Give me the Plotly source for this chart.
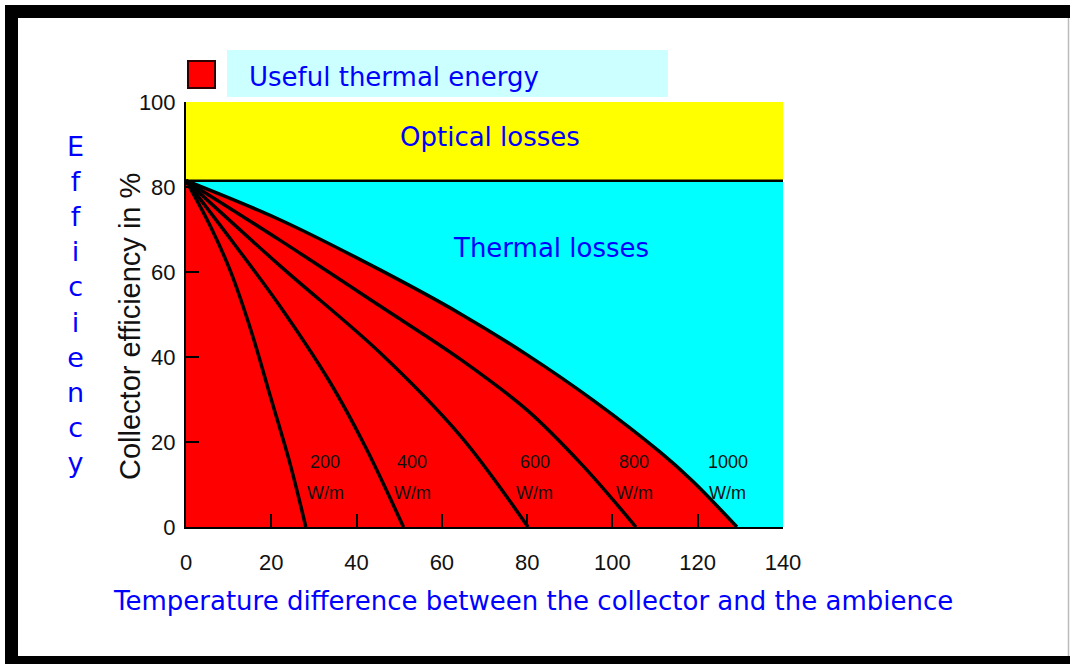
import plotly.graph_objects as go

# ---------------- data ----------------
optical_efficiency = 81.5          # % at zero temperature difference
x_ticks = [0, 20, 40, 60, 80, 100, 120, 140]
y_ticks = [0, 20, 40, 60, 80, 100]
irradiance_labels = ["200", "400", "600", "800", "1000"]
irradiance_unit = "W/m"

dT_200 = [0, 5.6, 10.3, 15.0, 20.0, 24.5, 28.1]
eta_200 = [81.5, 71.0, 60.5, 47.0, 30.0, 14.5, 0]

dT_400 = [0, 11.0, 22.0, 33.8, 42.0, 51.0]
eta_400 = [81.5, 67.0, 52.0, 34.0, 19.0, 0]

dT_600 = [0, 22.0, 45.5, 64.3, 80.2]
eta_600 = [81.5, 61.5, 41.0, 21.5, 0]

dT_800 = [0, 22.0, 45.5, 64.3, 80.0, 93.0, 105.5]
eta_800 = [81.5, 67.5, 52.0, 39.5, 27.5, 14.5, 0]

dT_1000 = [0, 22.0, 45.5, 64.3, 80.0, 95.5, 111.2, 118.9, 129.2]
eta_1000 = [81.5, 72.3, 60.5, 50.2, 40.5, 29.8, 17.6, 10.7, 0]

curves = [(dT_200, eta_200), (dT_400, eta_400), (dT_600, eta_600),
          (dT_800, eta_800), (dT_1000, eta_1000)]

# ---------------- layout geometry ----------------
W, H = 1070, 664
L, R, T, B = 186, 1070 - 783, 102, 664 - 527
PW, PH = W - L - R, H - T - B


def px(x):
    return (x - L) / PW


def py(y):
    return (H - B - y) / PH


BLUE = "#0000ff"
TXT_FONT = "DejaVu Sans"
AX_FONT = "Liberation Sans, Arial, sans-serif"

fig = go.Figure()

# cyan (thermal losses) below the optical efficiency level
fig.add_trace(go.Scatter(x=[x_ticks[0], x_ticks[-1]],
                         y=[optical_efficiency, optical_efficiency],
                         mode="lines", line=dict(width=0),
                         fill="tozeroy", fillcolor="#00ffff",
                         hoverinfo="skip", showlegend=False))
# yellow (optical losses) from optical efficiency up to 100 %
fig.add_trace(go.Scatter(x=[x_ticks[0], x_ticks[-1]],
                         y=[y_ticks[-1], y_ticks[-1]],
                         mode="lines", line=dict(width=0),
                         fill="tonexty", fillcolor="#ffff00",
                         hoverinfo="skip", showlegend=False))
# red (useful thermal energy) under the 1000 W/m curve
fig.add_trace(go.Scatter(x=dT_1000, y=eta_1000, mode="lines",
                         line=dict(width=0, shape="spline"),
                         fill="tozeroy", fillcolor="#ff0000",
                         name="Useful thermal energy", showlegend=False))
# black line at optical efficiency
fig.add_trace(go.Scatter(x=[x_ticks[0], x_ticks[-1]],
                         y=[optical_efficiency, optical_efficiency],
                         mode="lines", line=dict(color="black", width=2.5),
                         hoverinfo="skip", showlegend=False))
# efficiency curves
for (xs, ys), lab in zip(curves, irradiance_labels):
    fig.add_trace(go.Scatter(x=xs, y=ys, mode="lines",
                             line=dict(color="black", width=3.5, shape="spline"),
                             name=lab + " " + irradiance_unit, showlegend=False))

annotations = []
# curve labels
label_x = [32.6, 53.0, 81.8, 105.1, 127.1]
for lx, lab in zip(label_x, irradiance_labels):
    annotations.append(dict(x=lx, y=15.2, xref="x", yref="y", text=lab,
                            showarrow=False,
                            font=dict(family=AX_FONT, size=18, color="#111")))
    annotations.append(dict(x=lx, y=8.0, xref="x", yref="y", text=irradiance_unit,
                            showarrow=False,
                            font=dict(family=AX_FONT, size=18, color="#111")))

annotations += [
    dict(x=71.3, y=91.8, xref="x", yref="y", text="Optical losses",
         showarrow=False, font=dict(family=TXT_FONT, size=26, color=BLUE)),
    dict(x=85.6, y=65.6, xref="x", yref="y", text="Thermal losses",
         showarrow=False, font=dict(family=TXT_FONT, size=26, color=BLUE)),
    dict(x=px(247), y=py(77), xref="paper", yref="paper",
         text="Useful thermal energy", xanchor="left", yanchor="middle",
         showarrow=False, font=dict(family=TXT_FONT, size=26, color=BLUE)),
    dict(x=px(533), y=py(601), xref="paper", yref="paper",
         text="Temperature difference between the collector and the ambience",
         xanchor="center", yanchor="middle",
         showarrow=False, font=dict(family=TXT_FONT, size=26, color=BLUE)),
    dict(x=px(75), y=py(304), xref="paper", yref="paper",
         text="<br>".join(list("Efficiency")),
         xanchor="center", yanchor="middle",
         showarrow=False, font=dict(family=TXT_FONT, size=27, color=BLUE)),
    dict(x=px(130), y=py(327), xref="paper", yref="paper",
         text="Collector efficiency in %", textangle=-90,
         xanchor="center", yanchor="middle",
         showarrow=False, font=dict(family=AX_FONT, size=29, color="#111")),
]

shapes = [
    # legend background box
    dict(type="rect", xref="paper", yref="paper",
         x0=px(227), x1=px(668), y0=py(97), y1=py(50),
         fillcolor="#ccffff", line=dict(width=0), layer="below"),
    # red legend square
    dict(type="rect", xref="paper", yref="paper",
         x0=px(188), x1=px(215), y0=py(88), y1=py(61),
         fillcolor="#ff0000", line=dict(color="#300000", width=2)),
    # black picture frame
    dict(type="rect", xref="paper", yref="paper",
         x0=px(5), x1=px(1070), y0=py(18), y1=py(5),
         fillcolor="black", line=dict(width=0)),
    dict(type="rect", xref="paper", yref="paper",
         x0=px(5), x1=px(18), y0=py(664), y1=py(5),
         fillcolor="black", line=dict(width=0)),
    dict(type="rect", xref="paper", yref="paper",
         x0=px(5), x1=px(1070), y0=py(664), y1=py(656),
         fillcolor="black", line=dict(width=0)),
    dict(type="line", xref="paper", yref="paper",
         x0=px(1068.5), x1=px(1068.5), y0=py(18), y1=py(656),
         line=dict(color="#bbbbbb", width=1.5)),
]

fig.update_layout(
    width=W, height=H, autosize=False,
    margin=dict(l=L, r=R, t=T, b=B, pad=0),
    paper_bgcolor="white", plot_bgcolor="white",
    showlegend=False,
    annotations=annotations, shapes=shapes,
    xaxis=dict(range=[x_ticks[0], x_ticks[-1]], tickvals=x_ticks,
               ticks="inside", ticklen=13, tickwidth=1.5, tickcolor="black",
               showline=True, linecolor="black", linewidth=2,
               showgrid=False, zeroline=False, ticklabelstandoff=15,
               tickfont=dict(family=AX_FONT, size=22, color="#111")),
    yaxis=dict(range=[y_ticks[0], y_ticks[-1]], tickvals=y_ticks,
               ticks="inside", ticklen=13, tickwidth=1.5, tickcolor="black",
               showline=True, linecolor="black", linewidth=2,
               showgrid=False, zeroline=False, ticklabelstandoff=4,
               tickfont=dict(family=AX_FONT, size=22, color="#111")),
)

fig.write_html("out.html",
               config={"displayModeBar": False},
               post_script="document.body.style.margin='0';"
                           "document.body.style.overflow='hidden';")
